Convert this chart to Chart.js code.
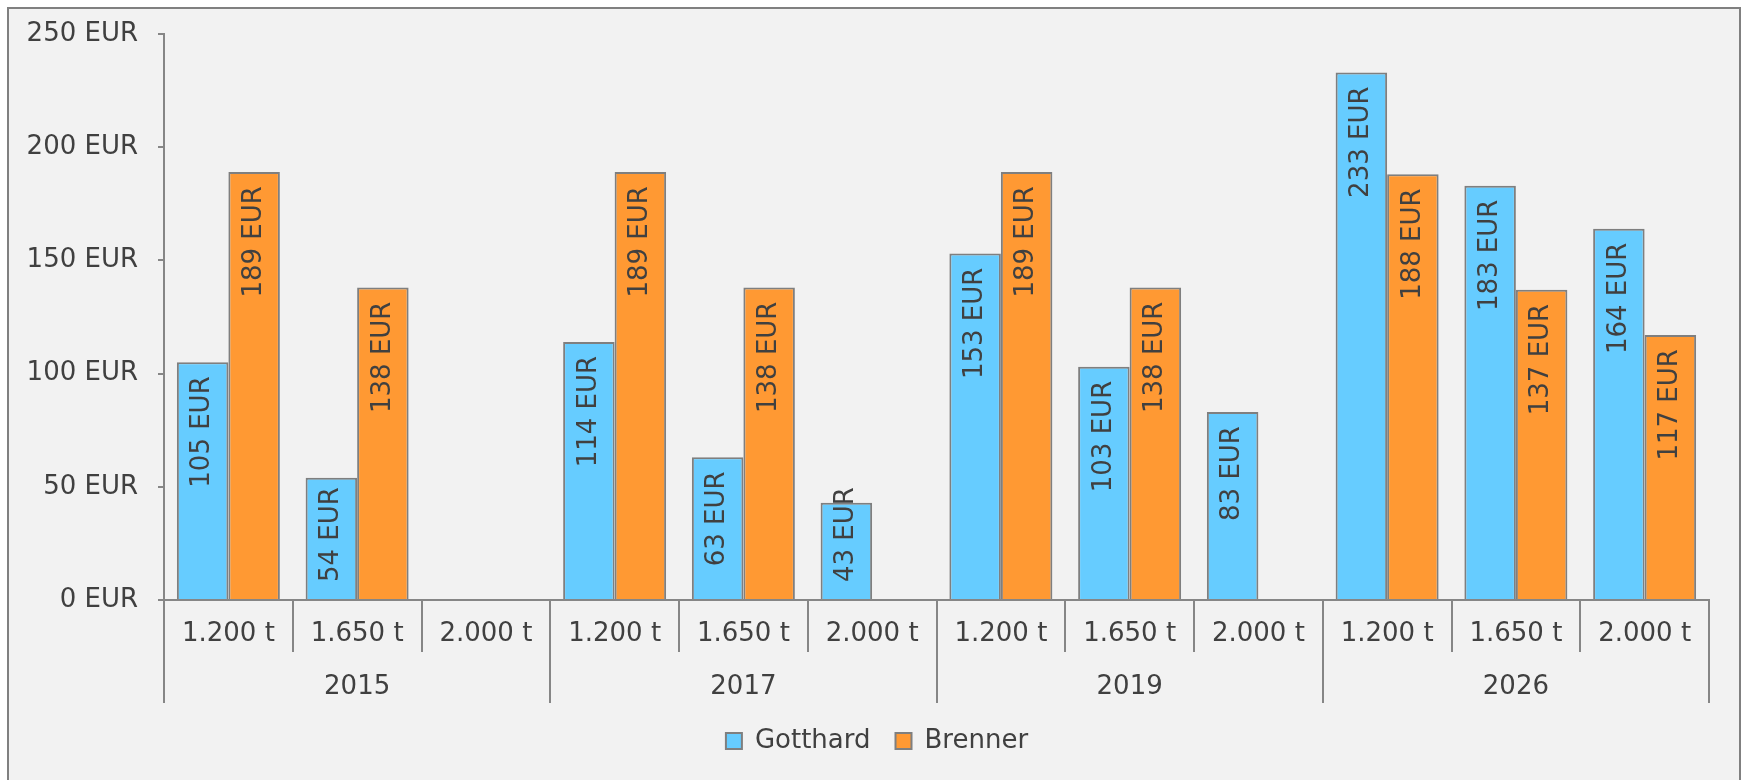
<!DOCTYPE html>
<html>
<head>
<meta charset="utf-8">
<script src="https://cdn.jsdelivr.net/npm/chart.js@4.4.1/dist/chart.umd.min.js"></script>
<style>
  html, body { margin: 0; padding: 0; background: #fff; overflow: hidden; }
  #box { position: absolute; left: 7px; top: 7px; width: 1730px; height: 790px; border: 2px solid #808080; background: #f2f2f2; }
</style>
</head>
<body>
<div id="box"><canvas id="chart"></canvas></div>
<script>
// data
const loads = ['1.200 t', '1.650 t', '2.000 t', '1.200 t', '1.650 t', '2.000 t',
               '1.200 t', '1.650 t', '2.000 t', '1.200 t', '1.650 t', '2.000 t'];
const years = ['2015', '2017', '2019', '2026'];
const gotthard = [105, 54, null, 114, 63, 43, 153, 103, 83, 233, 183, 164];
const brenner = [189, 138, null, 189, 138, null, 189, 138, null, 188, 137, 117];
const yTicks = [0, 50, 100, 150, 200, 250];
const unit = 'EUR';

const axisGrey = '#868686';
const textGrey = '#404040';
const fontFamily = '"DejaVu Sans", Verdana, sans-serif';

Chart.defaults.font.family = fontFamily;
Chart.defaults.font.size = 26;
Chart.defaults.color = textGrey;

// value labels, rotated, near the top inside each bar
const barLabels = {
    id: 'barLabels',
    afterLayout(chart) {
        // legend sits centred on the whole box, not on the padded area
        chart.legend.left += 18;
        chart.legend.right += 18;
    },
    afterDatasetsDraw(chart) {
        const ctx = chart.ctx;
        const base = chart.scales.y.getPixelForValue(0);
        ctx.save();
        ctx.font = '26px ' + fontFamily;
        ctx.fillStyle = textGrey;
        ctx.textAlign = 'right';
        ctx.textBaseline = 'middle';
        chart.data.datasets.forEach((ds, i) => {
            chart.getDatasetMeta(i).data.forEach((bar, j) => {
                const v = ds.data[j];
                if (v == null) return;
                const text = v + ' ' + unit;
                const w = ctx.measureText(text).width;
                let end = bar.y + 14;
                if (end + w > base - 18) end = base - 18 - w;
                ctx.save();
                ctx.translate(bar.x, end);
                ctx.rotate(-Math.PI / 2);
                ctx.fillText(text, 0, 0);
                ctx.restore();
            });
        });
        ctx.restore();
    }
};

new Chart(document.getElementById('chart'), {
    type: 'bar',
    data: {
        labels: loads,
        datasets: [
            { label: 'Gotthard', data: gotthard, backgroundColor: '#66ccff', borderColor: '#7f7f7f', borderWidth: 2 },
            { label: 'Brenner', data: brenner, backgroundColor: '#ff9933', borderColor: '#7f7f7f', borderWidth: 2 }
        ]
    },
    options: {
        responsive: true,
        maintainAspectRatio: false,
        animation: false,
        layout: { padding: { top: 25, left: 0, right: 30, bottom: 35 } },
        datasets: { bar: { barPercentage: 1, categoryPercentage: 0.8 } },
        plugins: {
            tooltip: { enabled: false },
            legend: {
                position: 'bottom',
                labels: { boxWidth: 16, boxHeight: 16, padding: 25, color: textGrey, font: { size: 26 } }
            }
        },
        scales: {
            x: {
                position: 'bottom', weight: 0, offset: true,
                grid: { offset: true, drawOnChartArea: false, tickLength: 52, color: axisGrey, lineWidth: 2 },
                border: { display: true, color: axisGrey, width: 2 },
                ticks: { padding: -33, autoSkip: false, maxRotation: 0, color: textGrey },
                afterFit(s) { s.height = 52; }
            },
            x2: {
                type: 'category', labels: years, position: 'bottom', weight: 1, offset: true,
                grid: { offset: true, drawOnChartArea: false, tickLength: 51, color: axisGrey, lineWidth: 2 },
                border: { display: false },
                ticks: { padding: -31, autoSkip: false, maxRotation: 0, color: textGrey },
                afterFit(s) { s.height = 51; }
            },
            y: {
                min: 0, max: 250,
                grid: { drawOnChartArea: false, tickLength: 6, color: axisGrey, lineWidth: 2 },
                border: { display: true, color: axisGrey, width: 2 },
                ticks: { padding: 20, color: textGrey, callback: v => v + ' ' + unit },
                afterBuildTicks(s) { s.ticks = yTicks.map(v => ({ value: v })); },
                afterFit(s) {
                    s.width = 155;
                    s.paddingTop = 0;
                    s.paddingBottom = 0;
                }
            }
        }
    },
    plugins: [barLabels]
});
</script>
</body>
</html>
